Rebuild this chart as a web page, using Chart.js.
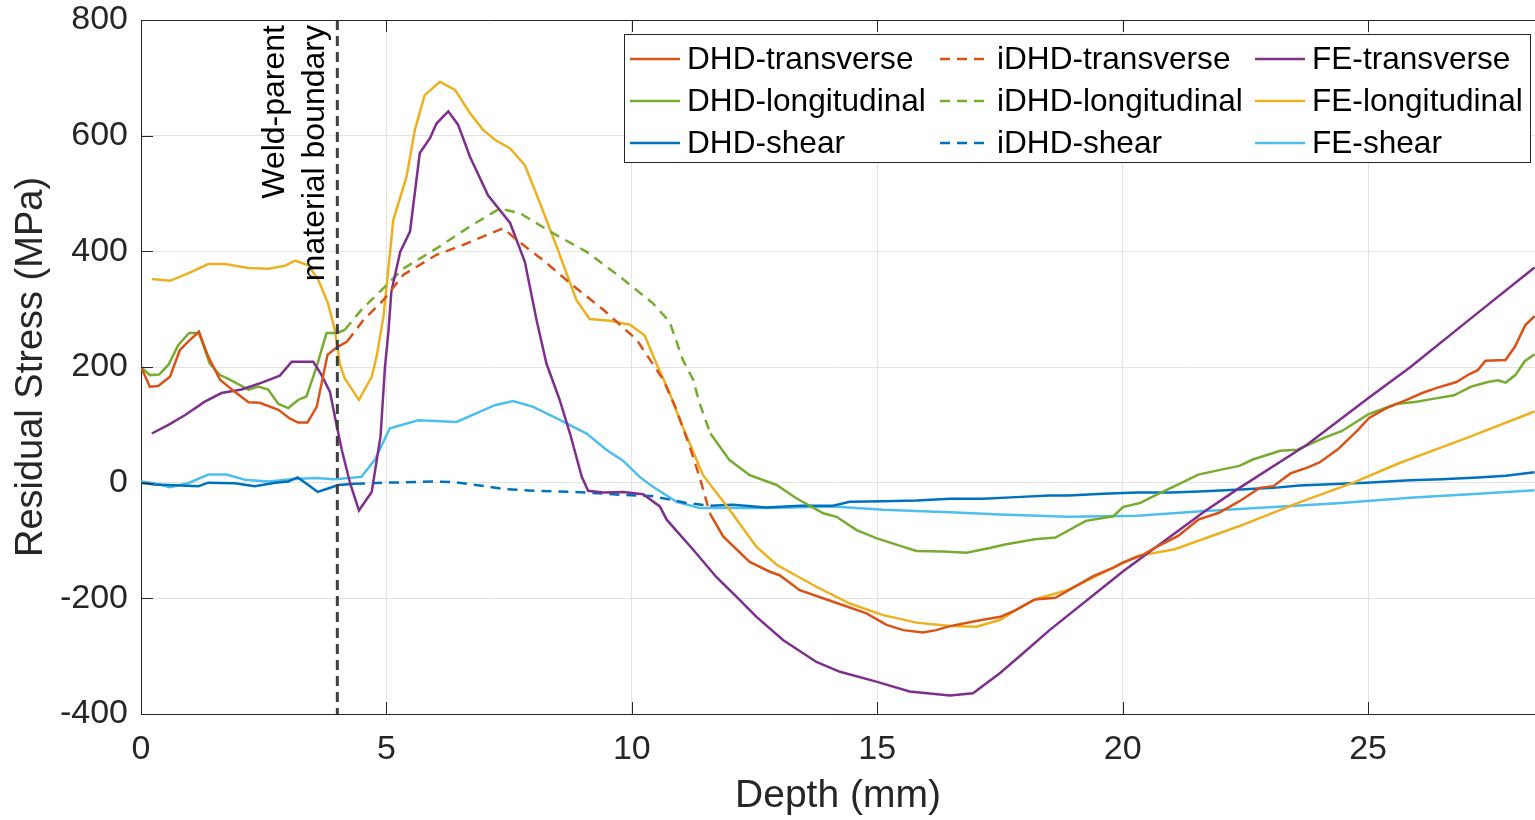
<!DOCTYPE html>
<html>
<head>
<meta charset="utf-8">
<title>Residual stress vs depth</title>
<script src="https://cdn.jsdelivr.net/npm/chart.js@4.4.0/dist/chart.umd.min.js"></script>
<style>
  html,body{margin:0;padding:0;background:#fff;overflow:hidden}
  canvas{display:block}
</style>
</head>
<body>
<canvas id="stress-chart" width="1535" height="820"></canvas>
<script>
// depth in mm, stress in MPa; null splits a line where the dashed iDHD part takes over
const dhdTransverseDepth = [0,0.18,0.35,0.59,0.79,0.96,1.18,1.37,1.61,1.91,2.19,2.42,2.8,3.03,3.2,3.39,3.58,3.8,3.99,4.2, null,
  11.59,11.86,12.4,12.81,13.01,13.42,14.1,14.78,15.19,15.53,15.93,16.2,16.48,17.15,17.51,17.83,18.21,18.63,19.39,19.81,
  20.01,20.43,20.71,21.13,21.54,21.96,22.38,22.79,23.07,23.42,23.76,24.01,24.39,24.78,25.02,25.4,25.75,26.1,26.4,26.8,
  27.05,27.24,27.39,27.8,27.99,28.2,28.39];
const dhdTransverseStress = [200,166,167,183,229,244,261,218,178,157,139,138,126,111,104,104,131,221,234,244, null,
  -53,-93,-137,-154,-160,-186,-206,-226,-246,-255,-259,-255,-248,-237,-232,-220,-202,-199,-162,-147,
  -138,-124,-110,-92,-64,-52,-32,-9,-6,16,26,35,58,90,112,130,142,155,164,174,
  187,195,211,212,235,272,288];

const dhdLongitudinalDepth = [0,0.18,0.37,0.56,0.76,0.98,1.18,1.4,1.61,1.81,2.19,2.39,2.59,2.8,3.0,3.2,3.37,3.58,3.78,3.99,4.15, null,
  11.6,11.99,12.4,12.95,13.35,13.9,14.17,14.58,14.98,15.53,15.8,16.34,16.82,17.29,17.6,18.21,18.63,19.25,19.81,20.01,
  20.36,20.64,21.06,21.54,22.03,22.38,22.65,23.21,23.56,24.11,24.46,25.0,25.57,25.99,26.26,26.75,27.1,27.44,27.65,27.8,
  28.0,28.19,28.39];
const dhdLongitudinalStress = [200,186,187,204,238,259,259,206,186,178,161,166,161,136,129,143,149,201,259,259,264, null,
  85,39,13,-4,-27,-53,-59,-82,-96,-111,-118,-119,-121,-113,-107,-98,-95,-66,-58,-42,
  -35,-23,-6,14,23,29,40,55,57,78,89,118,136,140,144,151,166,174,177,173,
  186,210,222];

const dhdShearDepth = [0,0.27,0.56,1.17,1.37,1.91,2.32,2.73,3.0,3.19,3.41,3.6,3.81,4.02,4.36, null,
  11.6,12.06,12.74,13.42,14.1,14.44,15.12,15.8,16.48,17.15,17.83,18.51,18.9,19.6,20.29,21.0,21.68,22.4,23.07,23.6,
  24.46,24.96,25.85,26.5,27.24,27.8,28.39];
const dhdShearStress = [0,-3,-4,-6,0,-1,-6,0,2,9,-4,-16,-10,-4,-2, null,
  -40,-38,-43,-40,-40,-33,-32,-31,-28,-28,-25,-22,-22,-19,-17,-17,-15,-12,-9,-5,
  -2,0,4,6,9,12,18];

const idhdTransverseDepth = [4.2,4.53,4.94,5.34,6.02,6.56,7.04,7.38,7.65,8.19,8.74,9.42,10.1,10.64,10.91,11.18,11.38,11.59];
const idhdTransverseStress = [244,281,316,359,394,411,428,440,420,385,345,299,247,178,126,62,10,-53];

const idhdLongitudinalDepth = [4.15,4.5,4.9,5.34,6.02,6.7,7.31,7.72,8.4,9.08,9.76,10.43,10.77,11.04,11.25,11.38,11.6];
const idhdLongitudinalStress = [264,300,333,370,405,443,474,466,431,399,356,310,278,212,178,137,85];

const idhdShearDepth = [4.36,5.0,6.02,6.36,7.0,7.38,8.06,9.08,9.76,10.4,11.11,11.6];
const idhdShearStress = [-2,0,2,1,-6,-11,-14,-17,-21,-23,-35,-40];

const feTransverseDepth = [0.22,0.56,0.9,1.3,1.64,2.05,2.46,2.83,3.07,3.51,3.68,3.85,3.95,4.09,4.26,4.44,4.7,4.88,4.97,5.04,
  5.1,5.28,5.48,5.68,5.89,6.02,6.26,6.46,6.7,7.07,7.52,7.82,8.06,8.26,8.53,8.74,8.98,9.11,9.42,9.82,
  10.23,10.57,10.71,11.25,11.72,12.13,12.54,13.08,13.76,14.24,14.98,15.66,16.48,16.95,17.49,17.97,18.51,20.01,21.68,22.38,
  23.76,25.0,25.85,27.24,28.39];
const feTransverseStress = [85,100,117,140,155,161,173,185,209,209,186,157,114,57,-1,-48,-16,80,200,260,
  330,399,434,570,596,621,642,619,564,497,449,382,281,206,143,85,10,-14,-17,-16,
  -20,-41,-64,-116,-163,-197,-232,-272,-310,-327,-344,-361,-368,-364,-330,-295,-255,-153,-49,-9,
  66,146,199,294,372];

const feLongitudinalDepth = [0.22,0.59,0.96,1.37,1.71,2.19,2.59,2.93,3.14,3.41,3.61,3.81,3.95,4.05,4.15,4.44,4.7,4.8,4.94,5.14,
  5.41,5.58,5.78,6.09,6.4,6.7,6.97,7.21,7.52,7.82,8.13,8.47,8.87,9.14,9.55,9.96,10.26,10.5,10.77,10.98,
  11.45,11.99,12.54,12.95,13.76,14.44,15.12,15.8,16.48,17.02,17.51,17.83,18.21,18.9,20.29,21.06,22.38,23.6,24.7,25.64,
  27.0,28.39];
const feLongitudinalStress = [352,349,362,378,378,371,370,375,384,376,351,310,264,206,180,143,183,218,287,454,
  529,610,670,693,679,639,610,593,578,549,483,408,316,283,280,273,255,206,155,108,
  13,-47,-111,-142,-180,-209,-229,-242,-248,-249,-237,-220,-202,-185,-127,-115,-75,-34,0,34,
  77,123];

const feShearDepth = [0,0.27,0.59,0.96,1.37,1.74,2.12,2.59,3.07,3.54,3.95,4.49,4.76,5.07,5.65,6.43,7.21,7.58,7.99,8.47,
  9.08,9.48,9.82,10.16,10.43,10.91,11.38,12.74,14.1,15.12,16.48,17.51,18.9,20.29,21.68,23.07,24.46,25.85,27.24,28.39];
const feShearStress = [2,-1,-8,-1,14,14,5,2,6,8,6,10,39,94,108,105,134,141,131,111,
  85,57,38,10,-7,-33,-44,-44,-41,-47,-51,-55,-59,-57,-49,-42,-35,-26,-19,-13];

const boundaryDepth = 4;           // weld / parent material boundary
const xTicks = [0,5,10,15,20,25];
const yTicks = [-400,-200,0,200,400,600,800];

(function(){
  const FONT = '"Liberation Sans", Arial, Helvetica, sans-serif';
  const AXIS = '#262626';
  const C = { red:'#D95319', green:'#77AC30', blue:'#0072BD', purple:'#7E2F8E', yellow:'#EDB120', cyan:'#4DBEEE' };
  const DASH = [10,7];

  function pts(xs, ys){
    const n = Math.min(xs.length, ys.length);
    const out = [];
    for(let i=0;i<n;i++) out.push({ x: xs[i], y: ys[i] });
    return out;
  }

  function series(label, xs, ys, color, dashed){
    return {
      label: label,
      data: pts(xs, ys),
      borderColor: color,
      backgroundColor: color,
      borderWidth: 2.5,
      borderDash: dashed ? DASH : [],
      pointRadius: 0,
      tension: 0,
      spanGaps: false,
      fill: false
    };
  }

  // legend order is row-major: 3 columns x 3 rows
  const datasets = [
    series('DHD-transverse', dhdTransverseDepth, dhdTransverseStress, C.red, false),
    series('iDHD-transverse', idhdTransverseDepth, idhdTransverseStress, C.red, true),
    series('FE-transverse', feTransverseDepth, feTransverseStress, C.purple, false),
    series('DHD-longitudinal', dhdLongitudinalDepth, dhdLongitudinalStress, C.green, false),
    series('iDHD-longitudinal', idhdLongitudinalDepth, idhdLongitudinalStress, C.green, true),
    series('FE-longitudinal', feLongitudinalDepth, feLongitudinalStress, C.yellow, false),
    series('DHD-shear', dhdShearDepth, dhdShearStress, C.blue, false),
    series('iDHD-shear', idhdShearDepth, idhdShearStress, C.blue, true),
    series('FE-shear', feShearDepth, feShearStress, C.cyan, false)
  ];

  // box frame, inward ticks, boundary line + label, legend
  const decorations = {
    id: 'decorations',
    afterDatasetsDraw(chart){
      const ctx = chart.ctx;
      const a = chart.chartArea;
      const xs = chart.scales.x, ys = chart.scales.y;

      // boundary line
      const bx = xs.getPixelForValue(boundaryDepth);
      ctx.save();
      ctx.strokeStyle = '#3f3f3f';
      ctx.lineWidth = 3;
      ctx.setLineDash([10,6]);
      ctx.beginPath();
      ctx.moveTo(bx, a.top);
      ctx.lineTo(bx, a.bottom);
      ctx.stroke();
      ctx.restore();

      // rotated annotation
      ctx.save();
      ctx.fillStyle = '#000';
      ctx.font = '32px ' + FONT;
      ctx.textAlign = 'right';
      ctx.textBaseline = 'middle';
      [['Weld-parent', bx - 62], ['material boundary', bx - 22]].forEach(([t, x])=>{
        ctx.save();
        ctx.translate(x, a.top + 5);
        ctx.rotate(-Math.PI/2);
        ctx.fillText(t, 0, 0);
        ctx.restore();
      });
      ctx.restore();

      // frame top edge and inward tick marks
      ctx.save();
      ctx.strokeStyle = AXIS;
      ctx.lineWidth = 1;
      ctx.beginPath();
      ctx.moveTo(a.left, a.top + 0.5);
      ctx.lineTo(a.right, a.top + 0.5);
      xTicks.forEach(v=>{
        const p = Math.round(xs.getPixelForValue(v)) + 0.5;
        ctx.moveTo(p, a.bottom); ctx.lineTo(p, a.bottom - 12);
        ctx.moveTo(p, a.top); ctx.lineTo(p, a.top + 12);
      });
      yTicks.forEach(v=>{
        const p = Math.round(ys.getPixelForValue(v)) + 0.5;
        ctx.moveTo(a.left, p); ctx.lineTo(a.left + 12, p);
      });
      ctx.stroke();
      ctx.restore();

      // legend box
      const box = { x: 624.5, y: 34.5, w: 906, h: 128 };
      const colX = [630, 940, 1255];
      const rowY = [59, 101, 143];
      ctx.save();
      ctx.fillStyle = '#fff';
      ctx.fillRect(box.x, box.y, box.w, box.h);
      ctx.strokeStyle = '#262626';
      ctx.lineWidth = 1;
      ctx.strokeRect(box.x, box.y, box.w, box.h);
      ctx.font = '31.6px ' + FONT;
      ctx.textBaseline = 'middle';
      ctx.textAlign = 'left';
      chart.data.datasets.forEach((ds, i)=>{
        const x = colX[i % 3], y = rowY[Math.floor(i / 3)];
        ctx.strokeStyle = ds.borderColor;
        ctx.lineWidth = 2.5;
        ctx.setLineDash(ds.borderDash || []);
        ctx.beginPath();
        ctx.moveTo(x, y);
        ctx.lineTo(x + 50, y);
        ctx.stroke();
        ctx.setLineDash([]);
        ctx.fillStyle = '#000';
        ctx.fillText(ds.label, x + 57, y + 1);
      });
      ctx.restore();
    }
  };

  function keepTicks(list){
    return function(scale){
      scale.ticks = scale.ticks.filter(t => list.indexOf(t.value) !== -1);
    };
  }

  document.addEventListener('DOMContentLoaded', ()=>{
    const ctx = document.getElementById('stress-chart');
    new Chart(ctx, {
      type: 'line',
      data: { datasets: datasets },
      options: {
        responsive: false,
        animation: false,
        devicePixelRatio: 1,
        layout: { padding: { top: 20, right: 0, left: 0, bottom: 0 } },
        plugins: { legend: { display: false }, tooltip: { enabled: false } },
        scales: {
          x: {
            type: 'linear',
            min: 0,
            max: 28.4,
            afterBuildTicks: keepTicks(xTicks),
            afterFit: s => { s.height = 106; s.paddingLeft = 0; s.paddingRight = 0; },
            ticks: { stepSize: 5, padding: 15, color: AXIS, font: { family: FONT, size: 34 } },
            grid: { color: '#e3e3e3', lineWidth: 1, drawTicks: false },
            border: { color: AXIS, width: 1 },
            title: { display: true, text: 'Depth (mm)', color: AXIS, padding: { top: 0, bottom: 0 },
              font: { family: FONT, size: 39, lineHeight: 1.2 } }
          },
          y: {
            type: 'linear',
            min: -400,
            max: 800,
            afterBuildTicks: keepTicks(yTicks),
            afterFit: s => { s.width = 141; s.paddingTop = 0; s.paddingBottom = 0; },
            ticks: { stepSize: 200, padding: 13, color: AXIS, font: { family: FONT, size: 34 } },
            grid: { color: '#e3e3e3', lineWidth: 1, drawTicks: false },
            border: { color: AXIS, width: 1 },
            title: { display: true, text: 'Residual Stress (MPa)', color: AXIS, padding: { top: 9, bottom: 0 },
              font: { family: FONT, size: 38, lineHeight: 1.2 } }
          }
        }
      },
      plugins: [decorations]
    });
  });
})();
</script>
</body>
</html>
